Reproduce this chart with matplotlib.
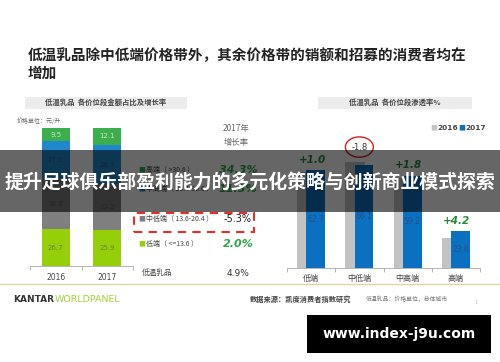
import numpy as np
import matplotlib
matplotlib.use("Agg")
from matplotlib import pyplot as plt
from matplotlib.patches import Rectangle, Ellipse

plt.rcParams['font.family'] = ['Noto Sans CJK SC', 'DejaVu Sans']

# left chart: share of sales value by price band (%)
years = ["2016", "2017"]
band_names = ["低端", "中低端", "中高端", "高端"]
band_ranges = ["（ <=13.6 ）", "（ 13.6-20.4 ）", "（ 20.4-30.6 ）", "（ >30.6 ）"]
share_2016 = [26.7, 36.8, 27.0, 9.5]
share_2017 = [25.9, 33.2, 28.7, 12.1]
growth_2017 = ["2.0%", "-5.3%", "11.3%", "34.3%"]
total_growth = "4.9%"

# right chart: penetration by price band (%)
pen_2016 = [61.7, 67.9, 57.4, 19.4]
pen_2017 = [62.7, 66.1, 59.2, 23.6]
pen_change = ["+1.0", "-1.8", "+1.8", "+4.2"]

W, H = 500, 362
fig = plt.figure(figsize=(5, 3.62), dpi=100)
fig.patch.set_facecolor("white")


def fx(x):
    return x / W


def fy(y):
    return 1 - y / H


def axes_px(left, top, right, bottom):
    # add an axes from pixel box (origin top-left)
    return fig.add_axes([fx(left), fy(bottom), (right - left) / W, (bottom - top) / H])


def ftext(x, y, s, **kw):
    kw.setdefault("va", "center")
    return fig.text(fx(x), fy(y), s, **kw)


# title
ftext(28, 55, "低温乳品除中低端价格带外，其余价格带的销额和招募的消费者均在",
      fontsize=10.5, fontweight="bold", color="#222222")
ftext(28, 73, "增加", fontsize=10.5, fontweight="bold", color="#222222")

# chart title boxes
fig.patches.append(Rectangle((fx(25), fy(109)), 162 / W, 12 / H, transform=fig.transFigure,
                             facecolor="#ececec", edgecolor="none"))
ftext(106, 102.5, "低温乳品  各价位段金额占比及增长率", ha="center", fontsize=5.3,
      fontweight="bold", color="#444444")
fig.patches.append(Rectangle((fx(318), fy(109)), 154 / W, 12 / H, transform=fig.transFigure,
                             facecolor="#ececec", edgecolor="none"))
ftext(395, 102.5, "低温乳品  各价位段渗透率%", ha="center", fontsize=5.3,
      fontweight="bold", color="#444444")
ftext(17, 121, "价格单位：元/升", fontsize=4.3, color="#666666", style="italic")

# left stacked bars
band_colors = ["#94cf0a", "#7f7f7f", "#1f87cb", "#3cae4e"]
label_colors = ["#6a8a30", "#5a5a5a", "#2a5f90", "#c8e8c8"]
ax1 = axes_px(30, 128, 133, 266)
x = np.arange(len(years))
bottoms = np.zeros(len(years))
for i in range(len(band_names)):
    vals = np.array([share_2016[i], share_2017[i]])
    ax1.bar(x, vals, 0.54, bottom=bottoms, color=band_colors[i], edgecolor="none")
    for xi, v, b in zip(x, vals, bottoms):
        ax1.text(xi, b + v / 2, f"{v:.1f}", ha="center", va="center",
                 fontsize=5, color=label_colors[i], family="DejaVu Sans")
    bottoms += vals
ax1.set_xlim(-0.5, 1.5)
ax1.set_ylim(0, 100)
ax1.set_yticks([])
ax1.set_xticks(x)
ax1.set_xticklabels(years, fontsize=5.5, color="#444444", family="DejaVu Sans")
ax1.set_xticks([-0.5, 0.5, 1.5], minor=True)
ax1.tick_params(axis="x", which="major", length=0, pad=5)
ax1.tick_params(axis="x", which="minor", length=3, color="#aaaaaa", width=0.6)
for s in ["top", "left", "right"]:
    ax1.spines[s].set_visible(False)
ax1.spines["bottom"].set_color("#aaaaaa")
ax1.spines["bottom"].set_linewidth(0.6)
ax1.patch.set_alpha(0)

# middle legend with growth rates
ftext(236, 128, "2017年", ha="center", fontsize=6, color="#666666")
ftext(236, 142, "增长率", ha="center", fontsize=6, color="#666666")
legend_y = [244, 219, 189, 170]
growth_colors = ["#2eaa4a", "#222222", "#2eaa4a", "#2eaa4a"]
for i in range(len(band_names)):
    ftext(138, legend_y[i], "■", fontsize=5, color=band_colors[i])
    ftext(146, legend_y[i], band_names[i] + band_ranges[i], fontsize=5, color="#444444")
    if growth_colors[i] == "#222222":
        ftext(238, legend_y[i], growth_2017[i], ha="center", fontsize=7,
              color="#222222", family="DejaVu Sans")
    else:
        ftext(238, legend_y[i], growth_2017[i], ha="center", fontsize=8,
              color=growth_colors[i], fontweight="bold", style="italic", family="DejaVu Sans")
ftext(142, 273, "低温乳品", fontsize=5.5, color="#444444")
ftext(238, 273, total_growth, ha="center", fontsize=6.5, color="#333333", family="DejaVu Sans")
fig.patches.append(Rectangle((fx(134), fy(232)), 120 / W, 19 / H, transform=fig.transFigure,
                             fill=False, edgecolor="#e03030", linewidth=1.5,
                             linestyle=(0, (4, 3))))

# right grouped bars
ax2 = axes_px(287, 128, 480, 268)
xc = np.arange(len(band_names))
ax2.bar(xc - 0.09, pen_2016, 0.4, color="#c3c3c3", edgecolor="none", zorder=2)
ax2.bar(xc + 0.095, pen_2017, 0.39, color="#0a70c2", edgecolor="none", zorder=3)
for i, v in enumerate(pen_2017):
    ax2.text(xc[i] + 0.095, v / 2, f"{v:.1f}", ha="center", va="center", fontsize=5.5,
             color="#24508a", family="DejaVu Sans", zorder=4)
for i, ch in enumerate(pen_change):
    top = max(pen_2016[i], pen_2017[i])
    if ch.startswith("-"):
        ax2.text(xc[i], top + 9.5, ch, ha="center", va="center", fontsize=6,
                 color="#333333", family="DejaVu Sans")
        ax2.add_patch(Ellipse((xc[i], top + 9.5), 0.58, 13, fill=False,
                              edgecolor="#d02020", linewidth=1.0, clip_on=False))
    else:
        ax2.text(xc[i] + 0.02, top + 6.5, ch, ha="center", va="center", fontsize=7.5,
                 color="#2a8a3a", fontweight="bold", style="italic", family="DejaVu Sans")
ax2.set_xlim(-0.5, 3.5)
ax2.set_ylim(0, 89.6)
ax2.set_yticks([])
ax2.set_xticks(xc)
ax2.set_xticklabels(band_names, fontsize=5.8, color="#444444")
ax2.set_xticks([-0.5, 0.5, 1.5, 2.5, 3.5], minor=True)
ax2.tick_params(axis="x", which="major", length=0, pad=4)
ax2.tick_params(axis="x", which="minor", length=3, color="#aaaaaa", width=0.6)
for s in ["top", "left", "right"]:
    ax2.spines[s].set_visible(False)
ax2.spines["bottom"].set_color("#aaaaaa")
ax2.spines["bottom"].set_linewidth(0.6)
ax2.patch.set_alpha(0)

# right legend
ftext(430, 128, "■", fontsize=5, color="#c3c3c3")
ftext(437, 128, "2016", fontsize=5.3, color="#444444", fontweight="bold", family="DejaVu Sans")
ftext(458, 128, "■", fontsize=5, color="#0a70c2")
ftext(465, 128, "2017", fontsize=5.3, color="#444444", fontweight="bold", family="DejaVu Sans")

# footer
fig.lines.append(plt.Line2D([0, 1], [fy(284), fy(284)], transform=fig.transFigure,
                            color="#e3d4a8", linewidth=1))
ftext(13, 300, "KANTAR", fontsize=6.5, fontweight="bold", color="#333333", family="DejaVu Sans")
ftext(55, 300, "WORLDPANEL", fontsize=6.8, color="#a6d03a", family="DejaVu Sans")
ftext(250, 299, "数据来源：凯度消费者指数研究", fontsize=5.2, fontweight="bold", color="#444444")
ftext(366, 299, "低温乳品：价格单位，总体城市", fontsize=4.2, color="#777777")
ftext(474, 302, "1", fontsize=3.5, color="#bbbbbb", family="DejaVu Sans")

# overlay banner
fig.patches.append(Rectangle((0, fy(212)), 1, 62 / H, transform=fig.transFigure,
                             facecolor="black", alpha=0.6, edgecolor="none", zorder=10))
ftext(250, 182, "提升足球俱乐部盈利能力的多元化策略与创新商业模式探索", ha="center",
      fontsize=13.6, fontweight="bold", color="white", zorder=11)

# watermark
fig.patches.append(Rectangle((fx(307), fy(353)), 184 / W, 38 / H, transform=fig.transFigure,
                             facecolor="black", edgecolor="none", zorder=10))
ftext(399, 334, "www.index-j9u.com", ha="center", fontsize=10, fontweight="bold",
      color="white", family="DejaVu Sans", zorder=11)

fig.savefig("out.png", dpi=100)
